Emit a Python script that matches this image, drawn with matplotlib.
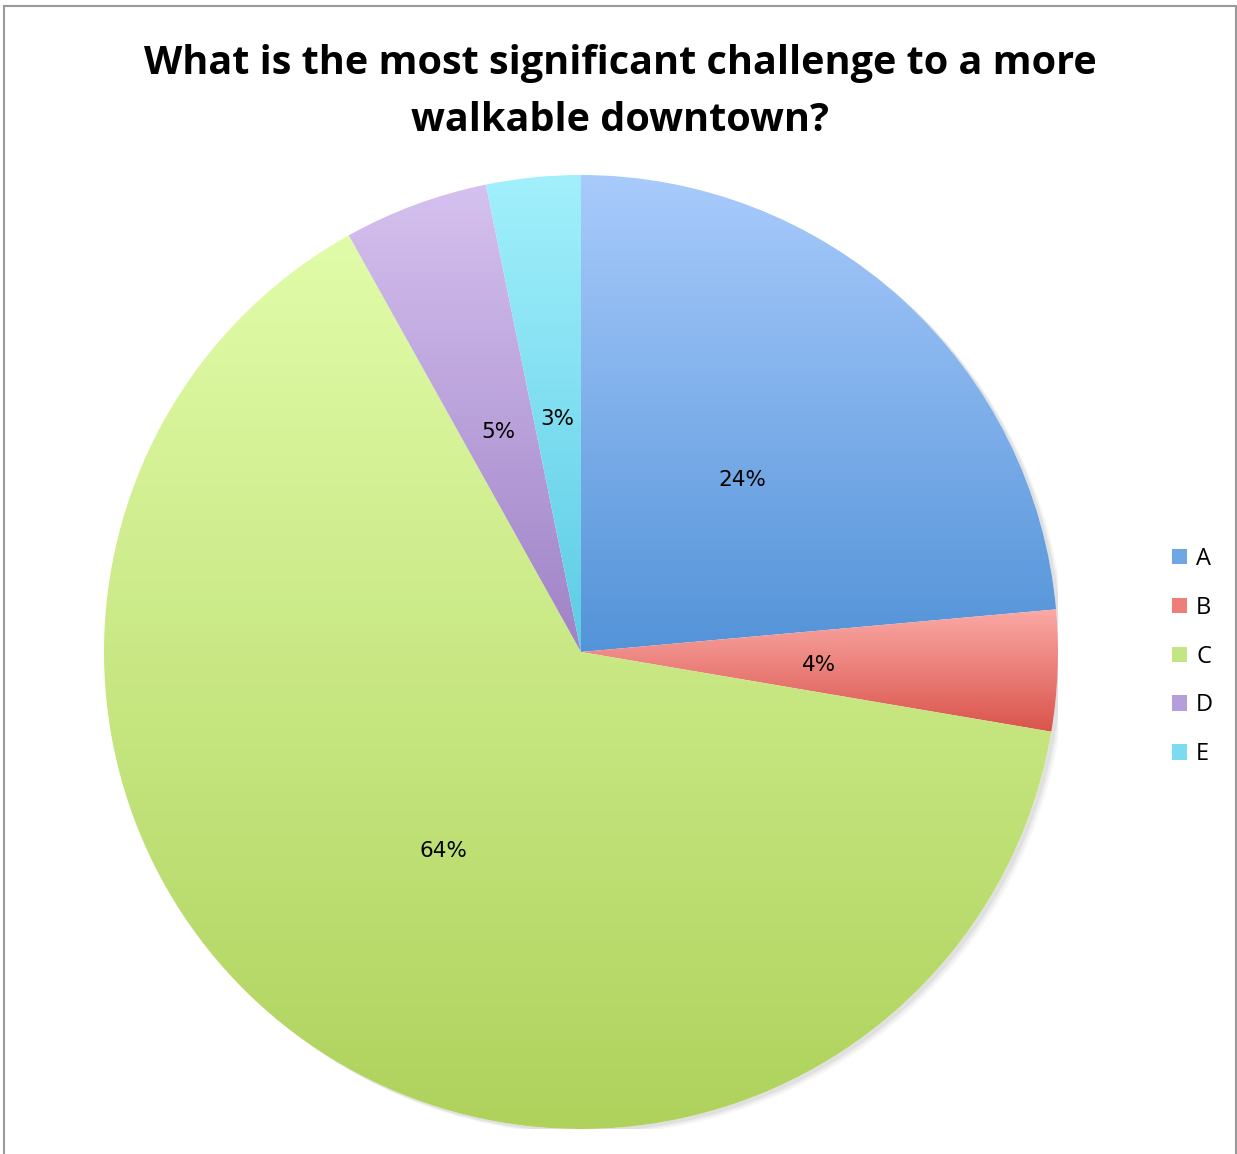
"""Pie chart: most significant challenge to a more walkable downtown."""

import matplotlib

matplotlib.use("Agg")
import matplotlib.pyplot as plt
import numpy as np
from matplotlib.colors import LinearSegmentedColormap
from matplotlib.patches import Patch, Rectangle

labels = ["A", "B", "C", "D", "E"]
values = [23.6, 4.1, 64.3, 4.9, 3.2]
pct_text = ["24%", "4%", "64%", "5%", "3%"]
top_colors = ["#a9cbfc", "#fba9a6", "#e1fca9", "#d5c1ef", "#a2f0fc"]
bottom_colors = ["#5393d8", "#d9544b", "#aed25c", "#9f82c6", "#5ccce5"]
mid_colors = ["#6fa6e6", "#ee7f78", "#c3e584", "#b59fdb", "#7bdcf0"]

W, H = 1237, 1154
fig = plt.figure(figsize=(W / 100, H / 100), dpi=100)

# outer frame
fig.patches.append(
    Rectangle((4 / W, -0.01), (1236 - 4) / W, (H - 6) / H + 0.01,
              transform=fig.transFigure, fill=False, edgecolor="#9a9a9a", lw=1.5)
)

cx, cy, R = 581, 652, 477
ax = fig.add_axes([(cx - R) / W, (H - cy - R) / H, 2 * R / W, 2 * R / H])
ax.set_aspect("equal")
ax.axis("off")

wedges, _ = ax.pie(values, startangle=90, counterclock=False, radius=1.0,
                   wedgeprops=dict(linewidth=0, facecolor="none"))

# soft shadow behind pie
for i, a in enumerate([0.05, 0.04, 0.03]):
    ax.add_patch(plt.Circle((0.008 + 0.004 * i, -0.006 - 0.003 * i), 1.0,
                            color="black", alpha=a, lw=0, zorder=0))
ax.add_patch(plt.Circle((0, 0), 1.0, color="white", lw=0, zorder=0.5))

grad = np.linspace(0, 1, 256).reshape(-1, 1)
for w, top, bot in zip(wedges, top_colors, bottom_colors):
    verts = w.get_path().vertices
    x0, x1 = verts[:, 0].min(), verts[:, 0].max()
    y0, y1 = verts[:, 1].min(), verts[:, 1].max()
    cmap = LinearSegmentedColormap.from_list("g", [bot, top])
    im = ax.imshow(grad, cmap=cmap, extent=[x0, x1, y0, y1], origin="lower",
                   aspect="auto", zorder=1, interpolation="bilinear")
    im.set_clip_path(w)

# percentage labels
angles = 90 - 360 * (np.cumsum(values) - np.array(values) / 2) / sum(values)
for ang, txt in zip(angles, pct_text):
    r = 0.5
    ax.text(r * np.cos(np.radians(ang)), r * np.sin(np.radians(ang)) - 0.008, txt,
            ha="center", va="center", fontsize=15.5, family="DejaVu Sans", zorder=3)

ax.set_xlim(-1, 1)
ax.set_ylim(-1, 1)

fig.text(620 / W, 1 - 92 / H,
         "What is the most significant challenge to a more\nwalkable downtown?",
         ha="center", va="center", fontsize=28.5, fontweight="bold",
         family="Open Sans", linespacing=1.6)

handles = [Patch(facecolor=c, edgecolor="none") for c in mid_colors]
fig.legend(handles, labels, loc="upper left", bbox_to_anchor=(1172 / W, 1 - 547 / H),
           frameon=False, prop=dict(family="Open Sans", size=17),
           handlelength=0.62, handleheight=0.62, handletextpad=0.4, labelspacing=1.05,
           borderaxespad=0, borderpad=0)

fig.savefig("out.png", dpi=100)
plt.close(fig)
